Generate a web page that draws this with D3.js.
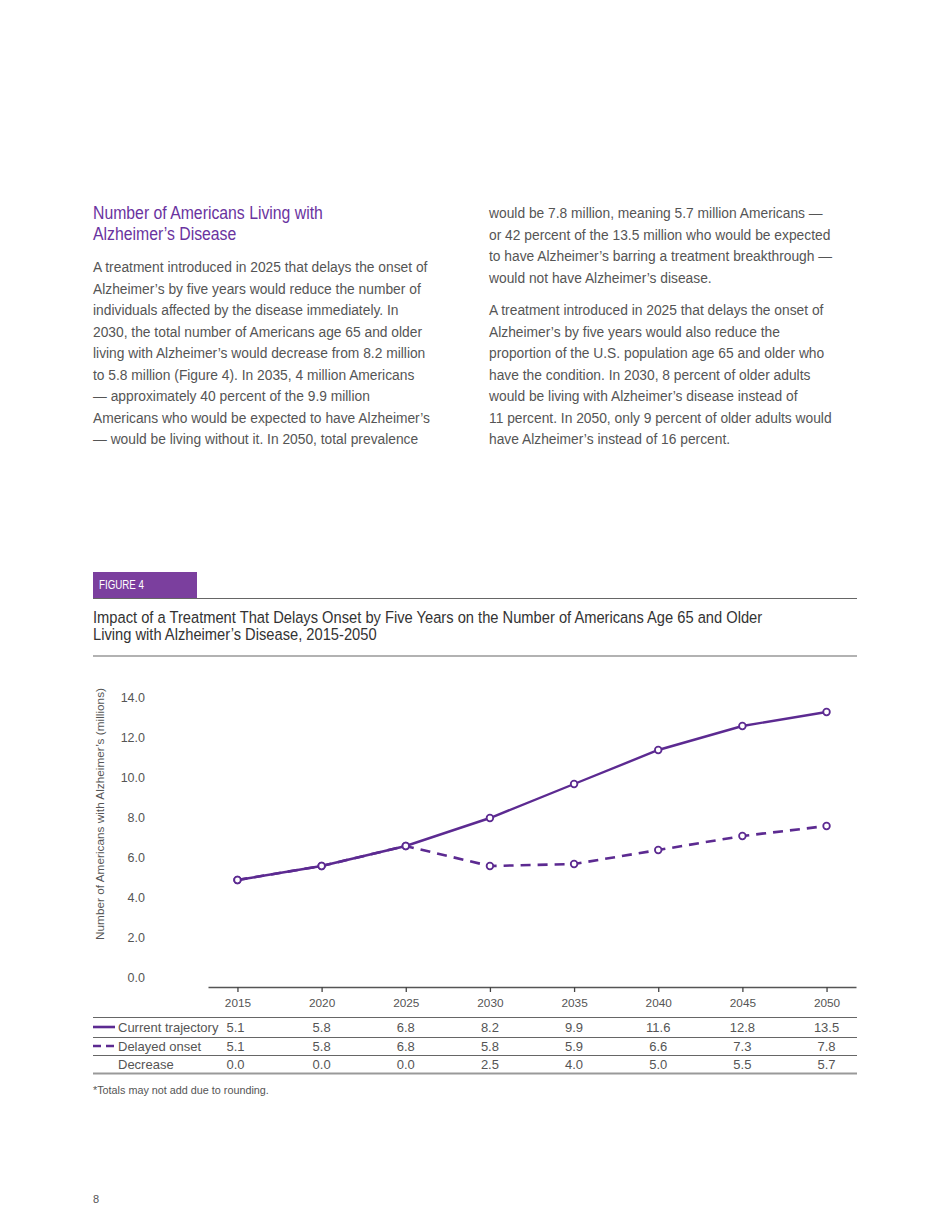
<!DOCTYPE html>
<html>
<head>
<meta charset="utf-8">
<script src="https://cdn.jsdelivr.net/npm/d3@7"></script>
<style>
  html, body { margin: 0; padding: 0; background: #fff; }
  svg { display: block; }
</style>
</head>
<body>
<svg id="page" width="950" height="1230"></svg>
<script>
// ---------- DATA ----------
const years = [2015, 2020, 2025, 2030, 2035, 2040, 2045, 2050];
const currentTrajectory = [5.1, 5.8, 6.8, 8.2, 9.9, 11.6, 12.8, 13.5];
const delayedOnset = [5.1, 5.8, 6.8, 5.8, 5.9, 6.6, 7.3, 7.8];
const decrease = [0.0, 0.0, 0.0, 2.5, 4.0, 5.0, 5.5, 5.7];
const yTicks = [0, 2, 4, 6, 8, 10, 12, 14];
const seriesNames = ["Current trajectory", "Delayed onset", "Decrease"];

const headingLines = ["Number of Americans Living with", "Alzheimer’s Disease"];
const leftParagraph = [
  "A treatment introduced in 2025 that delays the onset of",
  "Alzheimer’s by five years would reduce the number of",
  "individuals affected by the disease immediately. In",
  "2030, the total number of Americans age 65 and older",
  "living with Alzheimer’s would decrease from 8.2 million",
  "to 5.8 million (Figure 4). In 2035, 4 million Americans",
  "— approximately 40 percent of the 9.9 million",
  "Americans who would be expected to have Alzheimer’s",
  "— would be living without it. In 2050, total prevalence"
];
const rightParagraph1 = [
  "would be 7.8 million, meaning 5.7 million Americans —",
  "or 42 percent of the 13.5 million who would be expected",
  "to have Alzheimer’s barring a treatment breakthrough —",
  "would not have Alzheimer’s disease."
];
const rightParagraph2 = [
  "A treatment introduced in 2025 that delays the onset of",
  "Alzheimer’s by five years would also reduce the",
  "proportion of the U.S. population age 65 and older who",
  "have the condition. In 2030, 8 percent of older adults",
  "would be living with Alzheimer’s disease instead of",
  "11 percent. In 2050, only 9 percent of older adults would",
  "have Alzheimer’s instead of 16 percent."
];
const figureLabel = ["FIGURE 4"];
const figureTitle = [
  "Impact of a Treatment That Delays Onset by Five Years on the Number of Americans Age 65 and Older",
  "Living with Alzheimer’s Disease, 2015-2050"
];
const yAxisTitle = "Number of Americans with Alzheimer’s (millions)";
const footnote = "*Totals may not add due to rounding.";
const pageNumber = "8";

// ---------- STYLE ----------
const purple = "#5c2a91";
const headPurple = "#6a33a0";
const boxPurple = "#7b3f9e";
const bodyGrey = "#555555";
const sansFont = "'Liberation Sans', Arial, Helvetica, sans-serif";

const svg = d3.select("#page");

// condensed text block: regular sans squeezed horizontally so the first line
// gets the width it has in the reference
function narrowBlock(lines, x, y0, lh, size, fill, targetWidth) {
  const g = svg.append("g");
  const t = g.selectAll("text").data(lines).join("text")
    .attr("x", 0).attr("y", (d, i) => y0 + i * lh)
    .attr("font-family", sansFont).attr("font-size", size)
    .attr("fill", fill).text(d => d);
  const len = t.node().getComputedTextLength();
  const k = targetWidth / len;
  g.attr("transform", `translate(${x},0) scale(${k},1)`);
  return g;
}

// ---------- TEXT BLOCKS ----------
narrowBlock(headingLines, 93, 219.5, 20.5, 18.5, headPurple, 230);

function paragraph(lines, x, y0) {
  svg.append("g").selectAll("text").data(lines).join("text")
    .attr("x", x).attr("y", (d, i) => y0 + i * 21.5)
    .attr("font-family", sansFont).attr("font-size", 13.8)
    .attr("fill", bodyGrey).text(d => d);
}
paragraph(leftParagraph, 93, 272);
paragraph(rightParagraph1, 489, 218);
paragraph(rightParagraph2, 489, 315);

// ---------- FIGURE HEADER ----------
svg.append("rect").attr("x", 93).attr("y", 572).attr("width", 104).attr("height", 26)
  .attr("fill", boxPurple);
narrowBlock(figureLabel, 99, 589, 0, 12, "#fff", 45);
svg.append("line").attr("x1", 93).attr("x2", 857).attr("y1", 598.5).attr("y2", 598.5)
  .attr("stroke", "#666").attr("stroke-width", 1.2);
narrowBlock(figureTitle, 93, 623, 17, 17, "#333", 670);
svg.append("line").attr("x1", 93).attr("x2", 857).attr("y1", 656).attr("y2", 656)
  .attr("stroke", "#666").attr("stroke-width", 1.2);

// ---------- SCALES ----------
const x = d3.scalePoint().domain(years).range([208, 856]).padding(0.35);
const y = d3.scaleLinear().domain([0, 14]).range([982, 702]);

// y axis (labels only)
const yAxis = svg.append("g").attr("transform", "translate(145,0)")
  .call(d3.axisLeft(y).tickValues(yTicks).tickFormat(d3.format(".1f")).tickSize(0).tickPadding(0));
yAxis.select(".domain").remove();
yAxis.selectAll("text")
  .attr("font-family", sansFont).attr("font-size", 12.5).attr("fill", bodyGrey)
  .attr("dy", "-0.02em");

// y axis title
svg.append("text")
  .attr("transform", `translate(104,814) rotate(-90)`)
  .attr("text-anchor", "middle")
  .attr("font-family", sansFont).attr("font-size", 11.8).attr("fill", bodyGrey)
  .text(yAxisTitle);

// x axis
const xAxis = svg.append("g").attr("transform", "translate(0,987)")
  .call(d3.axisBottom(x).tickSize(5).tickSizeOuter(0).tickPadding(7));
xAxis.select(".domain").attr("stroke", "#555").attr("stroke-width", 1.3);
xAxis.selectAll(".tick line").attr("stroke", "#444").attr("stroke-width", 1.3);
xAxis.selectAll("text")
  .attr("font-family", sansFont).attr("font-size", 11.8).attr("fill", bodyGrey);

// ---------- LINES ----------
const line = d3.line().x((d, i) => x(years[i])).y(d => y(d));

svg.append("path").datum(delayedOnset)
  .attr("d", line).attr("fill", "none")
  .attr("stroke", purple).attr("stroke-width", 2.6)
  .attr("stroke-dasharray", "10,7");
svg.append("path").datum(currentTrajectory)
  .attr("d", line).attr("fill", "none")
  .attr("stroke", purple).attr("stroke-width", 2.4);

function markers(vals) {
  svg.append("g").selectAll("circle").data(vals).join("circle")
    .attr("cx", (d, i) => x(years[i])).attr("cy", d => y(d)).attr("r", 3.3)
    .attr("fill", "#fff").attr("stroke", purple).attr("stroke-width", 1.8);
}
markers(delayedOnset);
markers(currentTrajectory);

// ---------- TABLE ----------
const rowY = [1027, 1046, 1064];
const rowLines = [1017, 1037, 1055];
svg.append("g").selectAll("line").data(rowLines).join("line")
  .attr("x1", 93).attr("x2", 857).attr("y1", d => d + 0.5).attr("y2", d => d + 0.5)
  .attr("stroke", "#666").attr("stroke-width", 1.2);
svg.append("line").attr("x1", 93).attr("x2", 857).attr("y1", 1073.5).attr("y2", 1073.5)
  .attr("stroke", "#999").attr("stroke-width", 2);

const tableRows = [currentTrajectory, delayedOnset, decrease];
tableRows.forEach((vals, r) => {
  svg.append("text").attr("x", 118).attr("y", rowY[r] + 4.6)
    .attr("font-family", sansFont).attr("font-size", 13).attr("fill", bodyGrey)
    .text(seriesNames[r]);
  svg.append("g").selectAll("text").data(vals).join("text")
    .attr("x", (d, i) => x(years[i]) - (i === 0 ? 2 : 0))
    .attr("y", rowY[r] + 4.6)
    .attr("text-anchor", "middle")
    .attr("font-family", sansFont).attr("font-size", 13).attr("fill", bodyGrey)
    .text(d => d3.format(".1f")(d));
});

// legend swatches
svg.append("line").attr("x1", 93).attr("x2", 115).attr("y1", rowY[0]).attr("y2", rowY[0])
  .attr("stroke", purple).attr("stroke-width", 2.6);
svg.append("line").attr("x1", 93).attr("x2", 115).attr("y1", rowY[1]).attr("y2", rowY[1])
  .attr("stroke", purple).attr("stroke-width", 2.6).attr("stroke-dasharray", "8,5");

// footnote & page number
svg.append("text").attr("x", 93).attr("y", 1094)
  .attr("font-family", sansFont).attr("font-size", 10.8).attr("fill", bodyGrey)
  .text(footnote);
svg.append("text").attr("x", 93).attr("y", 1203)
  .attr("font-family", sansFont).attr("font-size", 11).attr("fill", bodyGrey)
  .text(pageNumber);
</script>
</body>
</html>
